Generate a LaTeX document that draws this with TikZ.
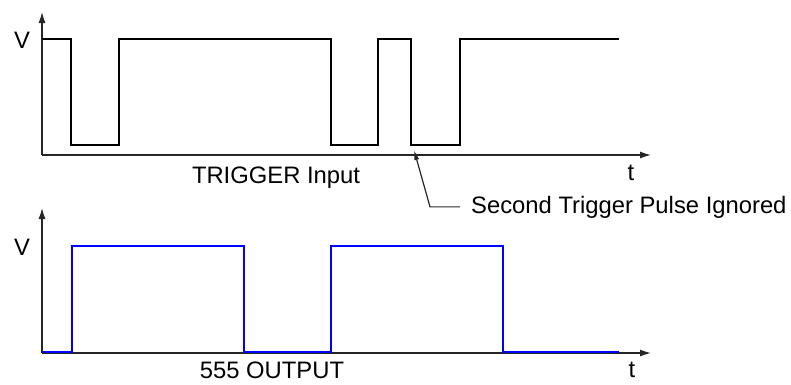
\documentclass[tikz,border=0pt]{standalone}
\usepackage{fontspec}
\setmainfont{Liberation Sans}
\usepackage{tikz}
\usetikzlibrary{arrows.meta}
\usetikzlibrary{calc}

\begin{document}
\begin{tikzpicture}[x=1pt, y=-1pt,
        axis_style/.style={draw=black!85, line width=1.3pt, -{Latex[length=11pt,width=7pt]}},
        trigger_style/.style={draw=black, line width=2.8pt, line join=miter},
        output_style/.style={draw=blue, line width=2.8pt, line join=miter},
        pointer_style/.style={draw=black!85, line width=1.2pt, -{Latex[length=10pt,width=5pt]}},
        text_style/.style={inner sep=0pt, font=\fontsize{23.8}{28}\selectfont}]

        \useasboundingbox (0,0) rectangle (791,384);

        % top panel: trigger input
        \coordinate (o1) at (42,155);
        \coordinate (v1) at (42,12);
        \coordinate (t1) at (651,155);

        \draw [axis_style] (o1) -- (v1);
        \draw [axis_style] (o1) -- (t1);

        \draw [trigger_style] (42,39) -- (71,39) -- (71,145) -- (119,145) -- (119,39)
            -- (331,39) -- (331,145) -- (378,145) -- (378,39) -- (411,39)
            -- (411,145) -- (460,145) -- (460,39) -- (619,39);

        \node [text_style, anchor=base] (vlab1) at (22,48) {V};
        \node [text_style, anchor=base] (tlab1) at (631,180) {t};
        \node [text_style, anchor=base] (trig) at (276,183) {TRIGGER Input};

        % pointer to the ignored pulse
        \node [text_style, anchor=base west, inner xsep=11pt] (ign) at (460,213) {Second Trigger Pulse Ignored};
        \coordinate (tip) at (414,150);
        \coordinate (bend) at (430,203);
        \draw [pointer_style] (ign.west) -- (bend |- ign.west) -- (tip);

        % bottom panel: 555 output
        \coordinate (o2) at (42,353);
        \coordinate (v2) at (42,208);
        \coordinate (t2) at (651,353);

        \draw [axis_style] (o2) -- (v2);
        \draw [axis_style] (o2) -- (t2);

        \draw [output_style] (42,352) -- (72,352) -- (72,246) -- (244,246) -- (244,352)
            -- (331,352) -- (331,246) -- (503,246) -- (503,352) -- (619,352);

        \node [text_style, anchor=base] (vlab2) at (22,255) {V};
        \node [text_style, anchor=base] (tlab2) at (632,377) {t};
        \node [text_style, anchor=base] (outp) at (272,378) {555 OUTPUT};

\end{tikzpicture}
\end{document}
